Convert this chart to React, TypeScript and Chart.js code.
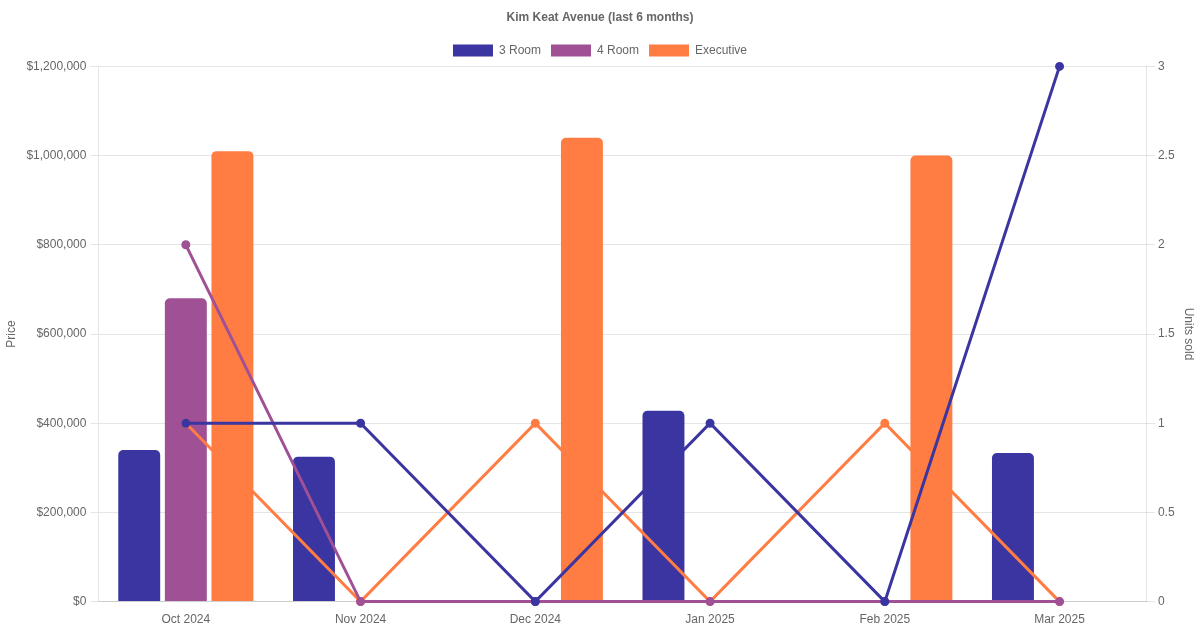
import { useEffect, useRef } from 'react';
import { Chart, registerables } from 'chart.js';

Chart.register(...registerables);

const months = ['Oct 2024', 'Nov 2024', 'Dec 2024', 'Jan 2025', 'Feb 2025', 'Mar 2025'];

// median price per flat type (bars, left axis)
const price3Room = [340000, 325000, null, 428000, null, 333000];
const price4Room = [680000, null, null, null, null, null];
const priceExec = [1010000, null, 1040000, null, 1000000, null];

// units sold per flat type (lines, right axis)
const units3Room = [1, 1, 0, 1, 0, 3];
const units4Room = [2, 0, 0, 0, 0, 0];
const unitsExec = [1, 0, 1, 0, 1, 0];

const BLUE = '#3a35a0';
const PURPLE = '#a05195';
const ORANGE = '#ff7c43';

export default function App() {
  const chartRef = useRef<HTMLCanvasElement>(null);
  const chartInstance = useRef<Chart | null>(null);

  useEffect(() => {
    if (!chartRef.current) return;
    const ctx = chartRef.current.getContext('2d');
    if (!ctx) return;

    if (chartInstance.current) {
      chartInstance.current.destroy();
    }

    const bar = (label: string, data: (number | null)[], color: string) => ({
      type: 'bar' as const,
      label,
      data,
      backgroundColor: color,
      borderColor: color,
      borderRadius: 5,
      yAxisID: 'y',
      order: 1,
    });

    const line = (label: string, data: number[], color: string) => ({
      type: 'line' as const,
      label,
      data,
      borderColor: color,
      backgroundColor: color,
      borderWidth: 3,
      pointRadius: 3,
      pointHoverRadius: 5,
      tension: 0,
      clip: false,
      yAxisID: 'y1',
      order: 0,
    });

    chartInstance.current = new Chart(ctx, {
      type: 'bar',
      data: {
        labels: months,
        datasets: [
          bar('3 Room', price3Room, BLUE),
          bar('4 Room', price4Room, PURPLE),
          bar('Executive', priceExec, ORANGE),
          line('3 Room units', units3Room, BLUE),
          line('4 Room units', units4Room, PURPLE),
          line('Executive units', unitsExec, ORANGE),
        ] as any,
      },
      options: {
        responsive: true,
        maintainAspectRatio: false,
        animation: false,
        plugins: {
          title: {
            display: true,
            text: 'Kim Keat Avenue (last 6 months)',
            color: '#666',
            font: { size: 12, weight: 'bold' },
          },
          legend: {
            position: 'top',
            labels: {
              color: '#666',
              filter: (item) => (item.datasetIndex ?? 0) < 3,
            },
          },
          tooltip: {
            mode: 'index',
            intersect: false,
          },
        },
        scales: {
          x: {
            grid: { display: false },
            ticks: { color: '#666' },
          },
          y: {
            position: 'left',
            min: 0,
            max: 1200000,
            ticks: {
              stepSize: 200000,
              padding: 4,
              color: '#666',
              callback: (v) => '$' + Number(v).toLocaleString('en-US'),
            },
            title: { display: true, text: 'Price', color: '#666' },
          },
          y1: {
            position: 'right',
            min: 0,
            max: 3,
            ticks: {
              stepSize: 0.5,
              color: '#666',
              callback: (v) => String(Number(v)),
            },
            grid: { drawOnChartArea: false },
            title: { display: true, text: 'Units sold', color: '#666' },
          },
        },
      },
    });

    return () => {
      if (chartInstance.current) {
        chartInstance.current.destroy();
        chartInstance.current = null;
      }
    };
  }, []);

  return (
    <div style={{ position: 'fixed', left: 0, top: 0, width: 1200, height: 630, background: '#fff' }}>
      <canvas ref={chartRef} />
    </div>
  );
}
